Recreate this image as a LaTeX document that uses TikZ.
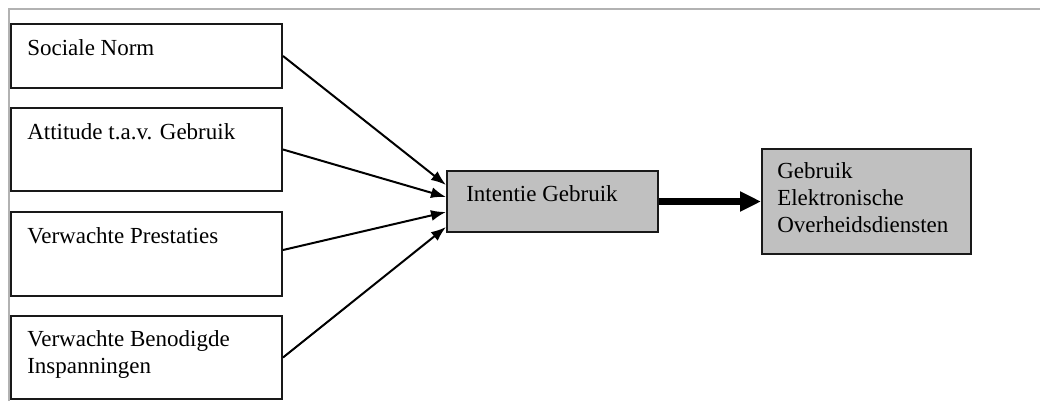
\documentclass[tikz,border=0pt]{standalone}
\usepackage{fontspec}
\setmainfont{Liberation Serif}
\usetikzlibrary{arrows.meta}
\newlength{\unitpx}
\setlength{\unitpx}{0.75pt}
\definecolor{boxgray}{RGB}{192,192,192}
\definecolor{framegray}{RGB}{178,178,178}
\tikzset{
  factor/.style = {draw=black!90, line width=2\unitpx, minimum width=271\unitpx, inner sep=0pt},
  result/.style = {factor, fill=boxgray},
  lbl/.style = {anchor=base west, inner sep=0pt, align=left,
    font=\fontsize{17.25}{19.9}\selectfont},
  link/.style = {line width=2\unitpx, -{Latex[length=11.25pt,width=8.25pt]}},
  biglink/.style = {line width=7\unitpx, -{Triangle[length=15.75pt,width=14.25pt]}}
}

\begin{document}
\begin{tikzpicture}[x=0.75pt,y=-0.75pt]
  \useasboundingbox (0,0) rectangle (1040,401);
  % frame
  \draw[framegray, line width=2\unitpx] (9,401) -- (9,9) -- (1040,9);
  % factors
  \node[factor, minimum height=64\unitpx] (norm) at (146.5,56) {};
  \node[factor, minimum height=83\unitpx] (attitude) at (146.5,149.5) {};
  \node[factor, minimum height=84\unitpx] (prestaties) at (146.5,254) {};
  \node[factor, minimum height=83\unitpx] (inspanning) at (146.5,357.5) {};
  % intention, use
  \node[result, minimum width=211\unitpx, minimum height=61\unitpx] (intentie) at (552.5,201.5) {};
  \node[result, minimum width=209\unitpx, minimum height=105\unitpx] (gebruik) at (866.5,201.5) {};
  % texts (base = last line)
  \node[lbl] (normtxt) at ([shift={(17,32)}]norm.north west) {Sociale Norm};
  \node[lbl] (attitudetxt) at ([shift={(17,32)}]attitude.north west) {Attitude t.a.v. Gebruik};
  \node[lbl] (prestatiestxt) at ([shift={(17,32)}]prestaties.north west) {Verwachte Prestaties};
  \node[lbl] (inspanningtxt) at ([shift={(17,58)}]inspanning.north west) {Verwachte Benodigde\\Inspanningen};
  \node[lbl] (intentietxt) at ([shift={(20,31)}]intentie.north west) {Intentie Gebruik};
  \node[lbl] (gebruiktxt) at ([shift={(16,84)}]gebruik.north west) {Gebruik\\Elektronische\\Overheidsdiensten};
  % arrows
  \draw[link] (norm.east) -- ([shift={(0,-16.5)}]intentie.west);
  \draw[link] (attitude.east) -- ([shift={(0,-4.5)}]intentie.west);
  \draw[link] ([shift={(0,-4)}]prestaties.east) -- ([shift={(0,10.5)}]intentie.west);
  \draw[link] (inspanning.east) -- ([shift={(0,25.5)}]intentie.west);
  \draw[biglink] (intentie.east) -- (gebruik.west);
\end{tikzpicture}
\end{document}
